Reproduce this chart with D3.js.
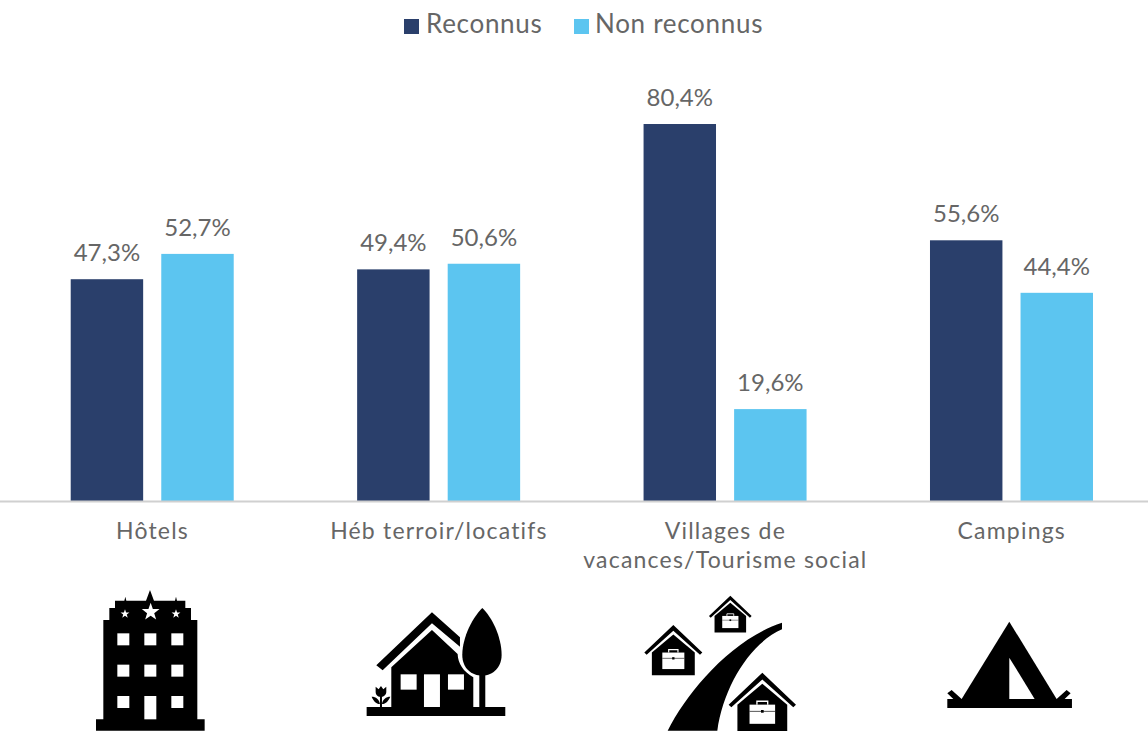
<!DOCTYPE html>
<html><head><meta charset="utf-8">
<script src="https://cdnjs.cloudflare.com/ajax/libs/d3/7.8.5/d3.min.js"></script>
<style>html,body{margin:0;padding:0;background:#fff}svg{display:block}text{font-family:Lato,sans-serif;fill:#666666}</style>
</head><body><svg id="c" width="1148" height="731"></svg>
<script>
const categories = ["Hôtels","Héb terroir/locatifs","Villages de vacances/Tourisme social","Campings"];
const categoryLines = [["Hôtels"],["Héb terroir/locatifs"],["Villages de","vacances/Tourisme social"],["Campings"]];
const seriesNames = ["Reconnus","Non reconnus"];
const reconnus = [47.3,49.4,80.4,55.6];
const nonReconnus = [52.7,50.6,19.6,44.4];
const seriesValues = [reconnus,nonReconnus];
const colors = ["#2a3f6b","#5cc5f0"];
const fmt = v => v.toFixed(1).replace(".",",")+"%";

const svg = d3.select("#c");
const x = d3.scaleBand().domain(categories).range([9.3,1155]);
const inner = d3.scaleBand().domain(seriesNames).range([-81.8,81.2]).paddingInner(0.2);
const y = d3.scaleLinear().domain([0,90]).range([501,79]);

// bars and labels
seriesNames.forEach((s,si)=>{
  const g = svg.append("g");
  g.selectAll("rect").data(seriesValues[si]).join("rect")
    .attr("x",(d,i)=>x(categories[i])+x.bandwidth()/2+inner(s))
    .attr("width",inner.bandwidth())
    .attr("y",d=>y(d)).attr("height",d=>y(0)-y(d)).attr("fill",colors[si]);
  g.selectAll("text").data(seriesValues[si]).join("text")
    .attr("x",(d,i)=>x(categories[i])+x.bandwidth()/2+inner(s)+inner.bandwidth()/2)
    .attr("y",d=>y(d)-18).attr("text-anchor","middle")
    .style("font-size","24px").text(fmt);
});

// axis
svg.append("line").attr("x1",0).attr("x2",1148).attr("y1",y(0)+0.5).attr("y2",y(0)+0.5)
  .attr("stroke","#d0d0d0").attr("stroke-width",2);
const ax = svg.append("g").attr("transform",`translate(0,${y(0)})`)
  .call(d3.axisBottom(x).tickSize(0).tickFormat(""));
ax.select(".domain").remove();
ax.selectAll(".tick").each(function(d,i){
  const t = d3.select(this).select("text").attr("y",null).attr("dy",null)
    .style("font-size","23px").style("letter-spacing","1.2px").attr("text-anchor","middle");
  categoryLines[i].forEach((l,k)=>t.append("tspan").attr("x",0).attr("y",38+k*29).text(l));
});

// legend
const lx = [404,574], tx = [426,595];
seriesNames.forEach((s,i)=>{
  svg.append("rect").attr("x",lx[i]).attr("y",19).attr("width",15).attr("height",15).attr("fill",colors[i]);
  svg.append("text").attr("x",tx[i]).attr("y",33).style("font-size","26px").style("letter-spacing","0.7px").text(s);
});

// pictograms (drawn in a 3x local space)
const icons = svg.append("g");
const left = icons.append("g").attr("transform","translate(80,580) scale(0.3333)");
const right = icons.append("g").attr("transform","translate(630,580) scale(0.3333)");
const blk = (g,d)=>g.append("path").attr("d",d).attr("fill","#000");
const wht = (g,d)=>g.append("path").attr("d",d).attr("fill","#fff");
const star = (cx,cy,r)=>{
  const p=d3.range(10).map(i=>{const a=-Math.PI/2+i*Math.PI/5,q=i%2?r*0.4:r;return [cx+q*Math.cos(a),cy+q*Math.sin(a)];});
  return "M"+p.join("L")+"Z";
};
const box=(a,b,w,h)=>`M${a},${b}h${w}v${h}h${-w}Z`;
// hotel
blk(left,"M48,452V418H70V120H88V84H105V62H133L136,50L139,62H198L210,30L222,62H285L288,50L291,62H316V84H333V120H352V418H374V452Z");
[112,193,274].forEach(a=>[160,254].forEach(b=>wht(left,box(a,b,36,36))));
wht(left,box(112,348,36,36));wht(left,box(274,348,36,36));wht(left,box(193,348,36,70));
wht(left,star(212,96,28));wht(left,star(135,102,14));wht(left,star(288,102,14));
// house
blk(left,"M860,381H1276V408H860Z");
blk(left,"M889,256L1056,97L1140,172V200L1056,130L908,271Z");
blk(left,"M934,381V262L1056,150L1133,222C1134,250 1150,275 1180,292V381Z");
wht(left,box(962,283,48,46));wht(left,box(1104,283,48,46));wht(left,box(1032,283,48,98));
blk(left,"M1198,280H1216V381H1198Z");
blk(left,"M1207,84C1180,110 1147,170 1147,225C1147,265 1175,287 1207,287C1240,287 1265,260 1265,225C1265,170 1235,110 1207,84Z");
blk(left,"M887,320L896,328L903,318L910,328L919,320V335C919,345 910,350 906,350V381H900V350C894,350 887,345 887,335Z");
blk(left,"M875,350C888,350 898,358 900,372C888,372 880,362 875,350ZM931,350C918,350 908,358 906,372C918,372 926,362 931,350Z");
// road
blk(right,"M113,452C170,340 300,180 456,128V148C360,190 280,320 262,452Z");
// unit house
const houses=[[130,135,0.87],[301,47,0.64],[397,278,1.01]];
houses.forEach(h=>{
  const g=right.append("g").attr("transform",`translate(${h[0]},${h[1]}) scale(${h[2]})`);
  blk(g,"M-100,95L0,0L100,95L92,103L0,20L-92,103Z");
  blk(g,"M-74,173V95L0,33L74,95V173Z");
  wht(g,"M-38,95H38V152H-38Z");
  g.append("path").attr("d","M-16,95V85H16V95").attr("fill","none").attr("stroke","#fff").attr("stroke-width",4);
  g.append("path").attr("d","M-38,115H38").attr("stroke","#000").attr("stroke-width",2);
  blk(g,box(-4,111,8,8));
});
// tent
blk(right,"M952,357H995L965,330L952,340L970,357H952ZM1326,357H1280L1310,330L1322,340L1304,357H1326Z");
blk(right,"M952,357H1326V384H952Z");
blk(right,"M1138,125L1280,357H995Z");
wht(right,"M1138,233L1214,357H1138Z");
</script></body></html>
